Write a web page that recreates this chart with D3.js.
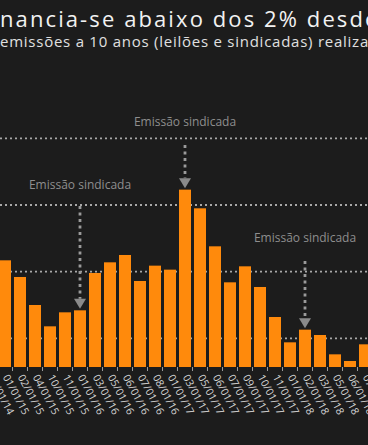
<!DOCTYPE html>
<html>
<head>
<meta charset="utf-8">
<script src="https://cdn.jsdelivr.net/npm/d3@7"></script>
<style>
  html, body { margin: 0; padding: 0; background: #1c1c1c; overflow: hidden; }
  svg { display: block; }
</style>
</head>
<body>
<svg id="chart" width="368" height="445"></svg>
<script>
// ---- data ----
const categories = ["12/01/14","01/01/15","02/01/15","04/01/15","10/01/15","11/01/15","01/01/16","03/01/16","05/01/16","06/01/16","07/01/16","08/01/16","01/01/17","03/01/17","05/01/17","06/01/17","07/01/17","09/01/17","10/01/17","11/01/17","01/01/18","02/01/18","03/01/18","05/01/18","06/01/18","07/01/18"];
// yields (%) — first category lies outside the visible crop (no readable bar)
const values = [null,3.17,2.92,2.50,2.18,2.39,2.42,2.98,3.14,3.25,2.86,3.09,3.03,4.23,3.95,3.38,2.84,3.08,2.77,2.32,1.94,2.13,2.05,1.76,1.66,1.91];
const gridValues = [2,3,4,5];
const annotations = [
  {category: "01/01/16", text: "Emissão sindicada"},
  {category: "03/01/17", text: "Emissão sindicada"},
  {category: "02/01/18", text: "Emissão sindicada"}
];
const titleText = "Financia-se abaixo dos 2% desde";
const subtitleText = "emissões a 10 anos (leilões e sindicadas) realizadas";

// ---- layout ----
const W = 368, H = 445;
const baseY = 367;
const svg = d3.select("#chart");
svg.append("rect").attr("width", W).attr("height", H).attr("fill", "#1c1c1c");

const x = d3.scaleBand().domain(categories).range([-17.5, -17.5 + 15 * categories.length])
  .paddingInner(0.2).paddingOuter(0.1);
const y = d3.scaleLinear().domain([1.57, 5]).range([baseY, 138.3]);

// gridlines
svg.append("g").selectAll("line").data(gridValues).join("line")
  .attr("x1", 0).attr("x2", W)
  .attr("y1", d => y(d)).attr("y2", d => y(d))
  .attr("stroke", "#a8a8a8").attr("stroke-width", 1.8)
  .attr("stroke-dasharray", "2,3");

// bars
const data = categories.map((c, i) => ({c, v: values[i]})).filter(d => d.v != null);
svg.append("g").selectAll("rect").data(data).join("rect")
  .attr("x", d => x(d.c)).attr("width", x.bandwidth())
  .attr("y", d => y(d.v)).attr("height", d => baseY - y(d.v))
  .attr("fill", "#ff8a0c");

// x axis: ticks at band boundaries, rotated labels
const step = x.step();
const axisG = svg.append("g");
axisG.selectAll("line").data(categories).join("line")
  .attr("x1", d => x(d) - step * 0.1).attr("x2", d => x(d) - step * 0.1)
  .attr("y1", baseY).attr("y2", baseY + 4)
  .attr("stroke", "#9a9a9a").attr("stroke-width", 1);
axisG.selectAll("text").data(categories).join("text")
  .attr("transform", d => `translate(${x(d) + x.bandwidth() / 2 - 2.5},${baseY + 10}) rotate(62)`)
  .attr("text-anchor", "start")
  .attr("font-family", "'Open Sans', sans-serif")
  .attr("font-size", 10.5)
  .attr("fill", "#d4d4d4")
  .text(d => d);

// annotations
const annLayout = [
  {textY: 189, lineTop: 206},
  {textY: 126, lineTop: 145},
  {textY: 242, lineTop: 261}
];
const annG = svg.append("g");
annotations.forEach((a, i) => {
  const v = values[categories.indexOf(a.category)];
  const cx = x(a.category) + x.bandwidth() / 2;
  const tip = y(v) - 1.5;
  const L = annLayout[i];
  annG.append("text")
    .attr("x", cx).attr("y", L.textY)
    .attr("text-anchor", "middle")
    .attr("font-family", "'Open Sans', sans-serif")
    .attr("font-size", 12)
    .attr("fill", "#8e8e8e")
    .text(a.text);
  annG.append("line")
    .attr("x1", cx).attr("x2", cx)
    .attr("y1", L.lineTop).attr("y2", tip - 10)
    .attr("stroke", "#9a9a9a").attr("stroke-width", 2.8)
    .attr("stroke-dasharray", "3,3.5");
  annG.append("path")
    .attr("d", `M${cx - 6},${tip - 10} L${cx + 6},${tip - 10} L${cx},${tip} Z`)
    .attr("fill", "#8a8a8a");
});

// title & subtitle (cropped on the left)
const title = svg.append("text")
  .attr("y", 27)
  .attr("font-family", "'Open Sans', sans-serif")
  .attr("font-size", 22)
  .attr("letter-spacing", 2.1)
  .attr("fill", "#f2f2f2")
  .text(titleText);
const off = title.node().getSubStringLength(0, 2);
title.attr("x", -off);

svg.append("text")
  .attr("x", 0).attr("y", 47)
  .attr("font-family", "'Open Sans', sans-serif")
  .attr("font-size", 15)
  .attr("letter-spacing", 0.75)
  .attr("fill", "#e0e0e0")
  .text(subtitleText);
</script>
</body>
</html>
